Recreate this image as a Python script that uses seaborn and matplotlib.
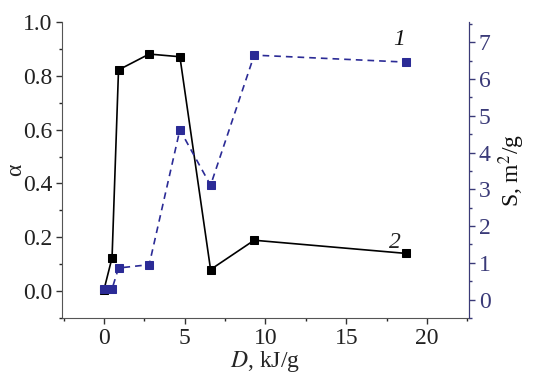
import matplotlib
matplotlib.use('Agg')
import matplotlib.pyplot as plt
import seaborn as sns
import pandas as pd
from matplotlib.ticker import MultipleLocator

# absorbed dose, kJ/g
dose = [0.0, 0.5, 0.9, 2.8, 4.7, 6.6, 9.3, 18.7]
# curve 1: alpha (left axis)
alpha = [0.005, 0.124, 0.822, 0.881, 0.871, 0.080, 0.189, 0.140]
# curve 2: specific surface S, m2/g (right axis)
surface = [0.28, 0.29, 0.86, 0.95, 4.62, 3.11, 6.65, 6.46]

navy = '#2b2b96'
tick_navy = '#3a3a78'

sns.set_style('ticks')
plt.rcParams['font.family'] = ['Liberation Serif', 'DejaVu Serif']
plt.rcParams['mathtext.fontset'] = 'stix'

df = pd.DataFrame({'D': dose, 'alpha': alpha, 'S': surface})

fig = plt.figure(figsize=(5.49, 3.8), dpi=100)
ax = fig.add_axes([0.1129, 0.1632, 0.7414, 0.7788])
ax2 = ax.twinx()

sns.lineplot(data=df, x='D', y='alpha', ax=ax, color='black', lw=1.2,
             marker='s', markersize=6, markeredgecolor='black')
sns.lineplot(data=df, x='D', y='S', ax=ax2, color=navy, lw=1.2,
             linestyle=(0, (4, 3)), marker='s', markersize=6,
             markeredgecolor=navy)

ax.set_xlim(-2.6, 22.6)
ax.set_ylim(-0.1, 1.0)
ax2.set_ylim(-0.5, 7.55)

ax.xaxis.set_major_locator(MultipleLocator(5))
ax.xaxis.set_minor_locator(MultipleLocator(2.5))
ax.yaxis.set_minor_locator(MultipleLocator(0.1))
ax2.yaxis.set_major_locator(MultipleLocator(1))
ax2.yaxis.set_minor_locator(MultipleLocator(0.5))
ax.set_yticks([0.0, 0.2, 0.4, 0.6, 0.8, 1.0])
ax.set_yticklabels(['0.0', '0.2', '0.4', '0.6', '0.8', '1.0'])

for a in (ax, ax2):
    a.spines['top'].set_visible(False)
    a.tick_params(which='major', direction='out', length=4, width=1,
                  labelsize=17, pad=3)
    a.tick_params(which='minor', direction='out', length=2.5, width=1)

ax.spines['left'].set_color('#555555')
ax.spines['bottom'].set_color('#555555')
ax.tick_params(colors='#333333', labelcolor='#222222')
ax2.spines['left'].set_visible(False)
ax2.spines['bottom'].set_visible(False)
ax2.spines['right'].set_color(tick_navy)
ax2.tick_params(axis='y', which='both', colors=tick_navy, labelcolor=tick_navy)

ax.set_xlabel(r'$D$, kJ/g', fontsize=17, labelpad=0)
ax.set_ylabel('α', fontsize=17, labelpad=-2)
ax2.set_ylabel(r'S, m$^2$/g', fontsize=17, labelpad=4, color='#111111')

ax.text(18.3, 0.915, '1', fontsize=17, style='italic', ha='center', color='#111111')
ax.text(18.0, 0.16, '2', fontsize=17, style='italic', ha='center', color='#222222')

fig.savefig('out.png', dpi=100)
